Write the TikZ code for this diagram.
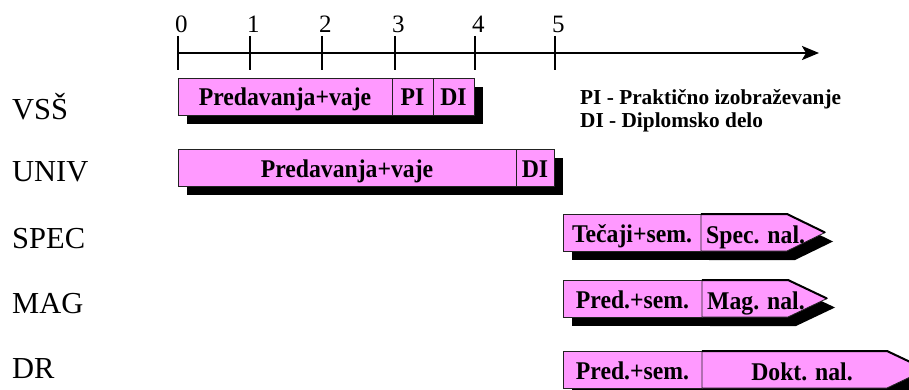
\documentclass[tikz,border=0pt]{standalone}
\usepackage{fontspec}
\setmainfont{Liberation Serif}
\newfontfamily\barfont[FakeStretch=0.93]{Liberation Serif}
\usetikzlibrary{arrows.meta,shadows}
\definecolor{barpink}{HTML}{FF99FF}
\definecolor{edge}{HTML}{222222}

\tikzset{
  seg/.style={draw=edge, line width=0.8pt, fill=barpink, inner sep=0pt, outer sep=0pt,
    anchor=north west, minimum height=37pt, text height=19pt, text depth=0pt,
    font=\barfont\fontsize{25.5}{25.5}\selectfont\bfseries,
    drop shadow={shadow xshift=9pt, shadow yshift=-9pt, fill=black, opacity=1}},
  segtext/.style={inner sep=0pt, anchor=base west, font=\barfont\fontsize{25.5}{25.5}\selectfont\bfseries},
  rowlabel/.style={inner sep=0pt, anchor=base west, font=\fontsize{30.5}{30.5}\selectfont},
  ticklabel/.style={inner sep=0pt, anchor=base west, font=\fontsize{25}{25}\selectfont},
  legend/.style={inner sep=0pt, anchor=base west, font=\fontsize{21.3}{21.3}\selectfont\bfseries},
  axisline/.style={line width=2.6pt, -{Stealth[length=17pt, width=14pt, inset=4pt]}},
  tickline/.style={line width=2.4pt},
  arrowbody/.style={draw=edge, line width=0.8pt, fill=barpink},
  arrowtop/.style={draw=black, line width=2pt, line join=miter},
}

% pointed second half of a bar: left x, body end x, tip x, top y, bottom y
\newcommand\tailarrow[5]{%
  \fill[black] (#1+8,#4+9) -- (#2+8,#4+9) -- (#3+8,{(#4+#5)/2+9}) -- (#2+8,#5+9) -- (#1+8,#5+9) -- cycle;
  \filldraw[arrowbody] (#1,#4) -- (#2,#4) -- (#3,{(#4+#5)/2}) -- (#2,#5) -- (#1,#5) -- cycle;
  \draw[arrowtop] (#1,#4) -- (#2,#4) -- (#3,{(#4+#5)/2});
}

\begin{document}
\begin{tikzpicture}[x=1pt,y=-1pt]
\useasboundingbox (0,0) rectangle (909,390);

% time axis in years
\coordinate (a0) at (178,53);
\coordinate (aend) at (819,53);
\draw[axisline] (a0) -- (aend);
\foreach \k/\x in {0/178,1/250,2/322,3/395,4/475,5/555}{
  \coordinate (tt\k) at (\x,36);
  \coordinate (tb\k) at (\x,70);
  \draw[tickline] (tt\k) -- (tb\k);
  \node[ticklabel] (n\k) at (\x-3,33) {\k};
}

% row labels
\node[rowlabel] (vss)  at (12,120) {VSŠ};
\node[rowlabel] (univ) at (12,181) {UNIV};
\node[rowlabel] (spec) at (12,248) {SPEC};
\node[rowlabel] (mag)  at (12,313) {MAG};
\node[rowlabel] (dr)   at (12,378) {DR};

% VSS
\node[seg, minimum width=214pt] (vss1) at (178,78) {Predavanja+vaje};
\node[seg, minimum width=41pt]  (vss2) at (392,78) {PI};
\node[seg, minimum width=41pt]  (vss3) at (433,78) {DI};

% legend
\node[legend] (lg1) at (580,105) {PI - Praktično izobraževanje};
\node[legend] (lg2) at (580,128) {DI - Diplomsko delo};

% UNIV
\node[seg, minimum width=338pt] (univ1) at (178,149) {Predavanja+vaje};
\node[seg, minimum width=38pt]  (univ2) at (516,149) {DI};

% SPEC
\node[seg, minimum width=138pt] (spec1) at (563,214) {Tečaji+sem.};
\tailarrow{701}{787}{825}{214}{251}
\node[segtext] (spec2) at (706,243) {Spec. nal.};

% MAG
\node[seg, minimum width=139pt] (mag1) at (563,280) {Pred.+sem.};
\tailarrow{702}{788}{827}{280}{317}
\node[segtext] (mag2) at (707,309) {Mag. nal.};

% DR
\node[seg, minimum width=139pt] (dr1) at (563,351) {Pred.+sem.};
\tailarrow{702}{887}{926}{351}{388}
\node[segtext, anchor=base] (dr2) at (802,380) {Dokt. nal.};
\end{tikzpicture}
\end{document}
